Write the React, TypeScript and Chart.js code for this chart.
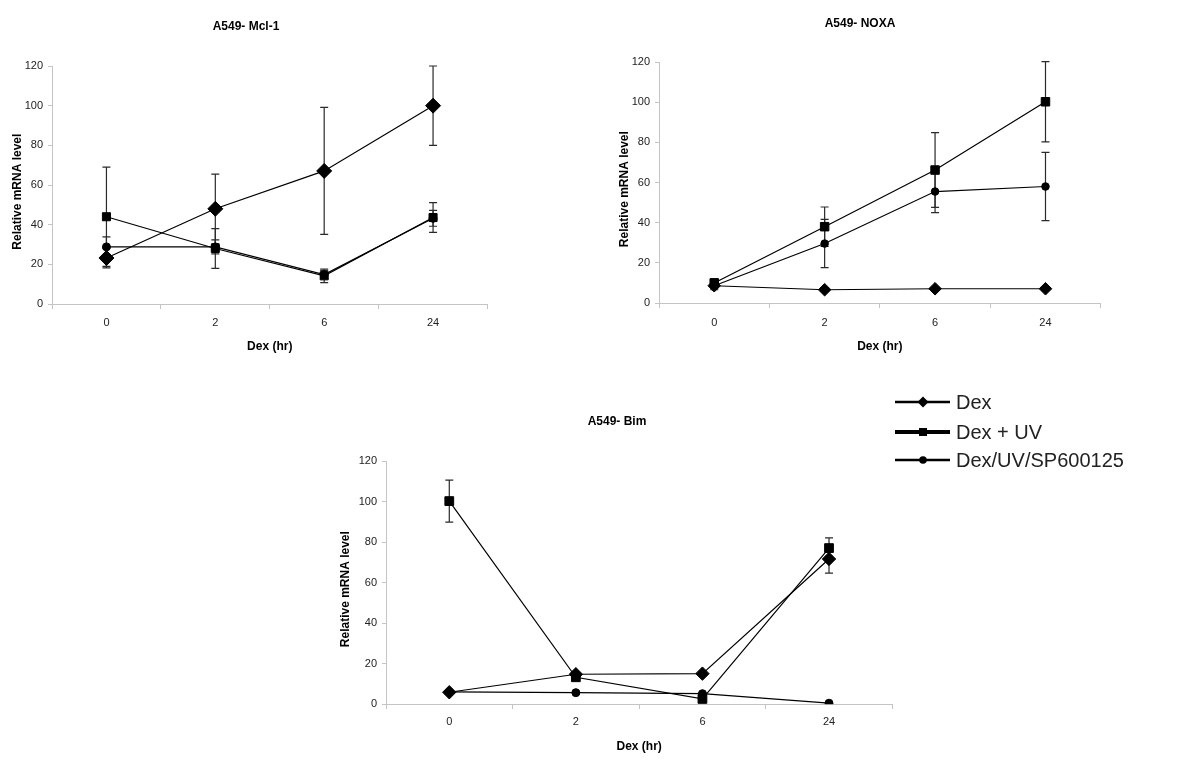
import React, { useEffect, useRef } from 'react';
import { Chart, registerables } from 'chart.js';

Chart.register(...registerables);

// ---------- data ----------
const categories = ['0', '2', '6', '24'];
const yTicks = { min: 0, max: 120, step: 20 };

const seriesNames = ['Dex', 'Dex + UV', 'Dex/UV/SP600125'];

// A549- Mcl-1
const mclDex = [23.2, 48, 67.1, 100];
const mclDexErr = [5, 17.5, 32, 20];
const mclUV = [44, 28, 14.2, 43.6];
const mclUVErr = [25, 10, 3.4, 7.5];
const mclSP = [28.8, 28.8, 14.8, 43.2];
const mclSPErr = [5, 3.5, 2, 4];

// A549- NOXA
const noxaDex = [8.6, 6.6, 7.1, 7.1];
const noxaDexErr = [2, 0.5, 0.5, 0.5];
const noxaUV = [10, 38, 66.2, 100.2];
const noxaUVErr = [2, 9.8, 18.6, 20];
const noxaSP = [8.6, 29.6, 55.5, 58];
const noxaSPErr = [1.5, 12, 10.5, 17];

// A549- Bim
const bimDex = [5.8, 14.7, 15, 71.6];
const bimDexErr = [0.5, 1, 1, 7];
const bimUV = [100.2, 13.2, 2.5, 77];
const bimUVErr = [10.4, 1, 0.5, 5];
const bimSP = [6, 5.6, 5.1, 0.4];
const bimSPErr = [0.3, 0.3, 0.5, 0.2];

// ---------- styles ----------
const TICK_FONT = "'Liberation Sans Narrow', 'Arial Narrow', 'Liberation Sans', Arial, sans-serif";
const BOLD_FONT = "'Liberation Sans', Arial, sans-serif";
const AXIS_GRAY = '#c4c4c4';

const errorBarPlugin = {
  id: 'errorBars',
  beforeDatasetsDraw(chart: any) {
    const ctx = chart.ctx;
    const yScale = chart.scales.y;
    chart.data.datasets.forEach((ds: any, i: number) => {
      const errs: number[] | undefined = ds.errors;
      if (!errs) return;
      const meta = chart.getDatasetMeta(i);
      ctx.save();
      ctx.strokeStyle = '#2a2a2a';
      ctx.lineWidth = 1.2;
      meta.data.forEach((el: any, j: number) => {
        const v = ds.data[j];
        const e = errs[j];
        if (!e) return;
        const x = el.x;
        const yt = yScale.getPixelForValue(v + e);
        const yb = yScale.getPixelForValue(v - e);
        ctx.beginPath();
        ctx.moveTo(x, yt);
        ctx.lineTo(x, yb);
        ctx.moveTo(x - 4, yt);
        ctx.lineTo(x + 4, yt);
        ctx.moveTo(x - 4, yb);
        ctx.lineTo(x + 4, yb);
        ctx.stroke();
      });
      ctx.restore();
    });
  },
};

type Spec = {
  title: string;
  left: number;
  top: number;
  width: number;
  height: number;
  padRight: number;
  padBottom: number;
  titleTop: number;
  titleBottom: number;
  yWidth: number;
  yTitlePad: number;
  xHeight: number;
  xTickPad: number;
  radii: [number, number, number];
  series: [number[], number[], number[]];
  errors: [number[], number[], number[]];
};

const pointStyles = ['rectRot', 'rect', 'circle'];

function buildConfig(spec: Spec): any {
  return {
    type: 'line',
    data: {
      labels: categories,
      datasets: spec.series.map((d, i) => ({
        label: seriesNames[i],
        data: d,
        errors: spec.errors[i],
        borderColor: '#000',
        backgroundColor: '#000',
        borderWidth: 1.2,
        pointStyle: pointStyles[i],
        pointRadius: spec.radii[i],
        pointHoverRadius: spec.radii[i],
        pointBorderWidth: 1,
        pointBorderColor: '#000',
        pointBackgroundColor: '#000',
        tension: 0,
        fill: false,
      })),
    },
    options: {
      responsive: false,
      maintainAspectRatio: false,
      animation: false,
      events: [],
      layout: { padding: { top: 0, left: 0, right: spec.padRight, bottom: spec.padBottom } },
      plugins: {
        legend: { display: false },
        tooltip: { enabled: false },
        title: {
          display: true,
          text: spec.title,
          color: '#000',
          font: { family: BOLD_FONT, size: 12, weight: 'bold' },
          padding: { top: spec.titleTop, bottom: spec.titleBottom },
        },
      },
      scales: {
        x: {
          type: 'category',
          offset: true,
          grid: {
            offset: true,
            drawOnChartArea: false,
            drawTicks: true,
            tickLength: 5,
            color: AXIS_GRAY,
          },
          border: { color: AXIS_GRAY, width: 1 },
          ticks: {
            font: { family: TICK_FONT, size: 11 },
            color: '#222',
            padding: spec.xTickPad,
            maxRotation: 0,
          },
          title: {
            display: true,
            text: 'Dex (hr)',
            color: '#000',
            font: { family: BOLD_FONT, size: 12, weight: 'bold' },
            padding: { top: 0, bottom: 3.5 },
          },
          afterFit: (s: any) => {
            s.height = spec.xHeight;
          },
        },
        y: {
          min: yTicks.min,
          max: yTicks.max,
          ticks: {
            stepSize: yTicks.step,
            font: { family: TICK_FONT, size: 11 },
            color: '#222',
            padding: 5,
          },
          grid: {
            drawOnChartArea: false,
            drawTicks: true,
            tickLength: 4,
            color: AXIS_GRAY,
          },
          border: { color: AXIS_GRAY, width: 1 },
          title: {
            display: true,
            text: 'Relative mRNA level    ',
            color: '#000',
            font: { family: BOLD_FONT, size: 12, weight: 'bold' },
            padding: { top: spec.yTitlePad, bottom: 0 },
          },
          afterFit: (s: any) => {
            s.width = spec.yWidth;
          },
        },
      },
    },
    plugins: [errorBarPlugin],
  };
}

const specs: Spec[] = [
  {
    title: 'A549- Mcl-1',
    left: 0, top: 0, width: 496, height: 360,
    padRight: 4, padBottom: 3,
    titleTop: 19.8, titleBottom: 31.8,
    yWidth: 52, yTitlePad: 10.8,
    xHeight: 53, xTickPad: 7.3,
    radii: [7.5, 5.7, 4],
    series: [mclDex, mclUV, mclSP],
    errors: [mclDexErr, mclUVErr, mclSPErr],
  },
  {
    title: 'A549- NOXA',
    left: 612, top: 0, width: 496, height: 360,
    padRight: 0, padBottom: 3,
    titleTop: 16.8, titleBottom: 30.8,
    yWidth: 47, yTitlePad: 5.8,
    xHeight: 54, xTickPad: 8.3,
    radii: [6.3, 6, 3.8],
    series: [noxaDex, noxaUV, noxaSP],
    errors: [noxaDexErr, noxaUVErr, noxaSPErr],
  },
  {
    title: 'A549- Bim',
    left: 334, top: 390, width: 566, height: 370,
    padRight: 0, padBottom: 3,
    titleTop: 24.8, titleBottom: 31.8,
    yWidth: 52, yTitlePad: 4.8,
    xHeight: 53, xTickPad: 6.3,
    radii: [6.7, 6.2, 4],
    series: [bimDex, bimUV, bimSP],
    errors: [bimDexErr, bimUVErr, bimSPErr],
  },
];

function LineChart({ spec }: { spec: Spec }) {
  const ref = useRef<HTMLCanvasElement>(null);
  useEffect(() => {
    if (!ref.current) return;
    const chart = new Chart(ref.current, buildConfig(spec));
    return () => chart.destroy();
  }, [spec]);
  return (
    <div style={{ position: 'absolute', left: spec.left, top: spec.top, width: spec.width, height: spec.height }}>
      <canvas
        ref={ref}
        width={spec.width}
        height={spec.height}
        style={{ display: 'block', width: spec.width, height: spec.height }}
      />
    </div>
  );
}

const legendRows = [
  { y: 402, stroke: 2.5, marker: 'diamond' },
  { y: 432, stroke: 4, marker: 'square' },
  { y: 460, stroke: 2.5, marker: 'circle' },
];

function Legend() {
  const x0 = 895;
  const x1 = 950;
  const mx = 923;
  return (
    <>
      <svg
        style={{ position: 'absolute', left: 0, top: 0, overflow: 'visible' }}
        width={1200}
        height={763}
      >
        {legendRows.map((r, i) => (
          <g key={i}>
            <line x1={x0} y1={r.y} x2={x1} y2={r.y} stroke="#000" strokeWidth={r.stroke} />
            {r.marker === 'diamond' && (
              <polygon
                points={`${mx - 5.5},${r.y} ${mx},${r.y - 5.5} ${mx + 5.5},${r.y} ${mx},${r.y + 5.5}`}
                fill="#000"
              />
            )}
            {r.marker === 'square' && <rect x={mx - 4} y={r.y - 4} width={8} height={8} fill="#000" />}
            {r.marker === 'circle' && <circle cx={mx} cy={r.y} r={3.8} fill="#000" />}
          </g>
        ))}
      </svg>
      {legendRows.map((r, i) => (
        <div
          key={i}
          style={{
            position: 'absolute',
            left: 956,
            top: r.y - 12,
            height: 24,
            lineHeight: '24px',
            fontSize: 20,
            fontFamily: BOLD_FONT,
            color: '#222',
            whiteSpace: 'nowrap',
          }}
        >
          {seriesNames[i]}
        </div>
      ))}
    </>
  );
}

export default function App() {
  return (
    <div
      style={{
        position: 'absolute',
        left: 0,
        top: 0,
        width: 1200,
        height: 763,
        background: '#fff',
        overflow: 'hidden',
      }}
    >
      {specs.map((s) => (
        <LineChart key={s.title} spec={s} />
      ))}
      <Legend />
    </div>
  );
}
